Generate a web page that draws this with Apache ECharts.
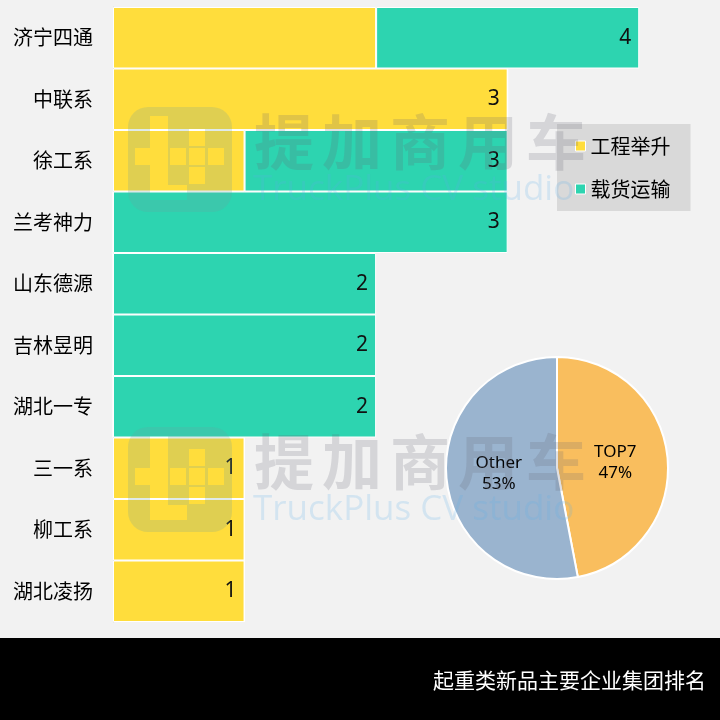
<!DOCTYPE html>
<html><head><meta charset="utf-8">
<script src="https://cdn.jsdelivr.net/npm/echarts@6/dist/echarts.min.js"></script>
<style>html,body{margin:0;padding:0;background:#F2F2F2}#c{width:720px;height:720px}</style>
</head><body><div id="c"></div>
<script>
// ---- data ----
const categories = ['济宁四通','中联系','徐工系','兰考神力','山东德源','吉林昱明','湖北一专','三一系','柳工系','湖北凌扬'];
const liftValues = [2,3,1,0,0,0,0,1,1,1];
const cargoValues = [2,0,2,3,2,2,2,0,0,0];
const seriesNames = ['工程举升','载货运输'];
const pieNames = ['TOP7','Other'];
const pieValues = [47,53];
const chartTitle = '起重类新品主要企业集团排名';
const wmCN = ['提','加','商','用','车'];
const wmEN = 'TruckPlus CV studio';

const totals = categories.map((c,i)=>liftValues[i]+cargoValues[i]);
const CJK = '"Noto Sans CJK SC", "Noto Sans", sans-serif';

const logoSvg = '<svg xmlns="http://www.w3.org/2000/svg" width="104" height="105" viewBox="0 0 104 105">' +
  '<path fill="rgb(110,160,160)" fill-opacity="0.22" fill-rule="evenodd" d="' +
  'M20,0 H84 A20,20 0 0 1 104,20 V85 A20,20 0 0 1 84,105 H20 A20,20 0 0 1 0,85 V20 A20,20 0 0 1 20,0 Z ' +
  'M22,9 H40 V78 H59 V93 H22 V58 H7 V41 H22 Z ' +
  'M42,41 H58 V58 H42 Z M61,41 H77 V58 H61 Z M80,41 H96 V58 H80 Z ' +
  'M61,22 H77 V39 H61 Z M61,60 H77 V77 H61 Z"/></svg>';
const logoUrl = 'data:image/svg+xml;charset=utf-8,' + encodeURIComponent(logoSvg);

function watermark(dy) {
  const els = [];
  els.push({type:'image', x:128, y:107+dy, z:100, silent:true,
    style:{image:logoUrl, width:104, height:105}});
  wmCN.forEach((ch,i)=>{
    els.push({type:'text', x:284+i*68, y:142+dy, z:100, silent:true,
      style:{text:ch, font:'bold 60px "Noto Sans CJK SC"', fill:'rgba(100,100,115,0.2)',
        align:'center', verticalAlign:'middle', textAlign:'center', textVerticalAlign:'middle'}});
  });
  els.push({type:'text', x:253, y:190+dy, z:100, silent:true,
    style:{text:wmEN, font:'35px "Open Sans"', fill:'rgba(90,175,235,0.2)',
      align:'left', verticalAlign:'middle', textAlign:'left', textVerticalAlign:'middle'}});
  return els;
}

const chart = echarts.init(document.getElementById('c'), null, {renderer:'canvas'});
chart.setOption({
  backgroundColor:'#F2F2F2',
  animation:false,
  grid:{left:113, top:7, width:592, height:615},
  xAxis:{type:'value', min:0, max:4.5, show:false},
  yAxis:{type:'category', data:categories, inverse:true,
    axisLine:{show:true, lineStyle:{color:'#D9D9D9', width:1}},
    axisTick:{show:false},
    axisLabel:{fontSize:20, color:'#000', margin:20, fontFamily:CJK}},
  legend:{orient:'vertical', left:557, top:124, data:seriesNames,
    backgroundColor:'#D9D9D9', padding:[11,20,11,18],
    icon:'rect', itemWidth:10, itemHeight:10, itemGap:21,
    itemStyle:{borderColor:'#fff', borderWidth:1},
    textStyle:{fontSize:20, lineHeight:22, color:'#000', fontFamily:CJK}},
  series:[
    {name:seriesNames[0], type:'bar', stack:'a', data:liftValues,
      barCategoryGap:'0%',
      itemStyle:{color:'#FFDD3C', borderColor:'#fff', borderWidth:1},
      label:{show:true, position:'insideRight', distance:8, fontSize:21, color:'#111', fontFamily:'"Noto Sans"',
        formatter:p=>cargoValues[p.dataIndex]===0 ? String(totals[p.dataIndex]) : ''}},
    {name:seriesNames[1], type:'bar', stack:'a', data:cargoValues,
      barCategoryGap:'0%',
      itemStyle:{color:'#2DD4B0', borderColor:'#fff', borderWidth:1},
      label:{show:true, position:'insideRight', distance:8, fontSize:21, color:'#111', fontFamily:'"Noto Sans"',
        formatter:p=>cargoValues[p.dataIndex]>0 ? String(totals[p.dataIndex]) : ''}},
    {type:'pie', center:[557,468], radius:111, startAngle:90, clockwise:true,
      data:pieNames.map((n,i)=>({name:n, value:pieValues[i]})),
      color:['#F9BE5E','#9AB4CF'],
      itemStyle:{borderColor:'#fff', borderWidth:2},
      label:{show:true, position:'inside', formatter:'{b}\n{d}%', fontSize:17, lineHeight:21,
        color:'#000', fontFamily:'"Noto Sans"'},
      labelLine:{show:false}, emphasis:{disabled:true}}
  ],
  graphic:[
    {type:'rect', x:0, y:638, z:50, silent:true, shape:{width:720, height:82}, style:{fill:'#000'}},
    {type:'text', x:706, y:680, z:51, silent:true,
      style:{text:chartTitle, font:'21px "Noto Sans CJK SC"', fill:'#fff',
        align:'right', verticalAlign:'middle', textAlign:'right', textVerticalAlign:'middle'}},
    ...watermark(0), ...watermark(320)
  ]
});
</script></body></html>
